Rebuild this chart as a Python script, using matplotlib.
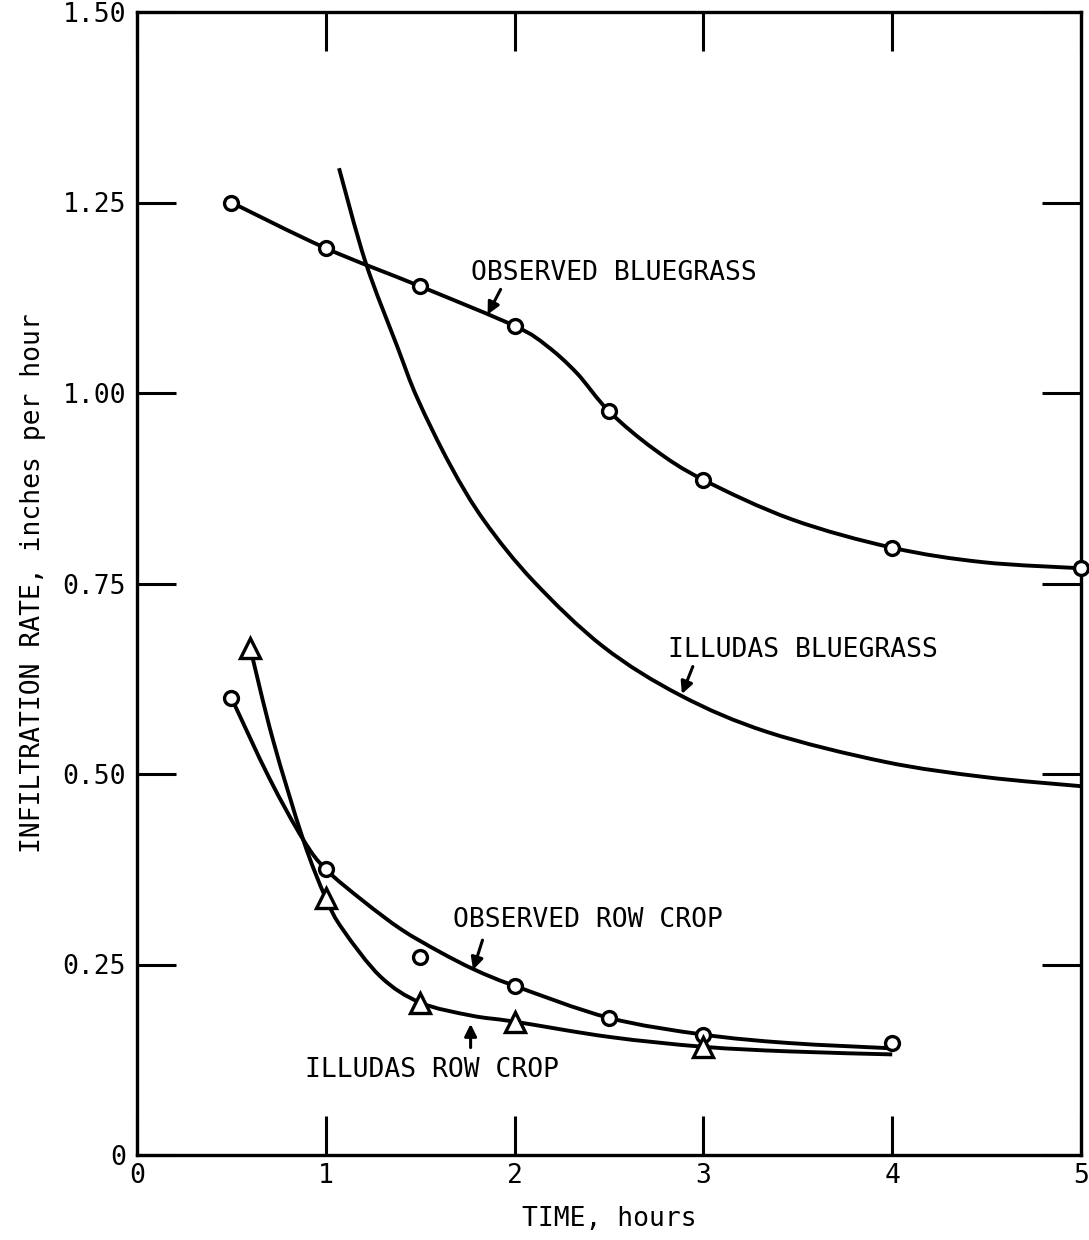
import matplotlib
matplotlib.use("Agg")
import matplotlib.pyplot as plt
import numpy as np
from matplotlib.path import Path
from matplotlib.patches import PathPatch

# Observed bluegrass (circles) and the curve drawn through them
obs_blue_x = [0.5, 1.0, 1.5, 2.0, 2.5, 3.0, 4.0, 5.0]
obs_blue_y = [1.25, 1.19, 1.14, 1.088, 0.976, 0.886, 0.797, 0.77]
obs_blue_curve_x = [0.5, 1.0, 1.5, 2.0, 2.17, 2.33, 2.5, 2.74, 3.0, 3.47, 4.0, 4.48, 5.0]
obs_blue_curve_y = [1.25, 1.19, 1.14, 1.088, 1.062, 1.026, 0.976, 0.926, 0.886, 0.834, 0.797, 0.778, 0.77]

# ILLUDAS bluegrass (curve only)
ill_blue_x = [1.07, 1.21, 1.38, 1.485, 1.66, 1.84, 2.10, 2.47, 2.88, 3.34, 3.96, 4.49, 5.0]
ill_blue_y = [1.295, 1.172, 1.06, 0.993, 0.905, 0.832, 0.753, 0.667, 0.603, 0.555, 0.516, 0.496, 0.484]

# Observed row crop (circles); the 1.5 h point sits off the curve
obs_row_x = [0.5, 1.0, 1.5, 2.0, 2.5, 3.0, 4.0]
obs_row_y = [0.60, 0.375, 0.26, 0.222, 0.18, 0.158, 0.147]
obs_row_curve_x = [0.5, 0.7, 0.88, 1.0, 1.2, 1.4, 1.6, 1.79, 2.0, 2.5, 3.0, 3.45, 4.0]
obs_row_curve_y = [0.60, 0.495, 0.414, 0.375, 0.333, 0.296, 0.267, 0.243, 0.222, 0.18, 0.158, 0.147, 0.14]

# ILLUDAS row crop (triangles)
ill_row_x = [0.6, 1.0, 1.5, 2.0, 3.0]
ill_row_y = [0.665, 0.337, 0.20, 0.175, 0.142]
ill_row_curve_x = [0.6, 0.72, 0.88, 1.0, 1.09, 1.29, 1.5, 1.77, 2.0, 2.5, 3.0, 3.45, 4.0]
ill_row_curve_y = [0.665, 0.545, 0.414, 0.337, 0.296, 0.234, 0.20, 0.183, 0.175, 0.155, 0.142, 0.136, 0.132]

x_ticks = [0, 1, 2, 3, 4, 5]
y_ticks = [0, 0.25, 0.50, 0.75, 1.00, 1.25, 1.50]
y_labels = ["0", "0.25", "0.50", "0.75", "1.00", "1.25", "1.50"]

plt.rcParams['font.family'] = ['DejaVu Sans Mono']
fs = 19


def smooth_path(xs, ys):
    # Catmull-Rom style bezier through the read points (like a french curve)
    p = np.column_stack([xs, ys]).astype(float)
    verts = [p[0]]
    codes = [Path.MOVETO]
    n = len(p)
    for i in range(n - 1):
        p0 = p[i - 1] if i > 0 else p[i]
        p1, p2 = p[i], p[i + 1]
        p3 = p[i + 2] if i + 2 < n else p[i + 1]
        c1 = p1 + (p2 - p0) / 6.0
        c2 = p2 - (p3 - p1) / 6.0
        verts += [c1, c2, p2]
        codes += [Path.CURVE4] * 3
    return Path(verts, codes)


fig = plt.figure(figsize=(10.89, 12.4), dpi=100)
ax = fig.add_axes([137/1089, 1 - 1155/1240, (1081 - 137)/1089, (1155 - 12)/1240])

lw = 2.8
for cx, cy in [(obs_blue_curve_x, obs_blue_curve_y), (ill_blue_x, ill_blue_y),
               (obs_row_curve_x, obs_row_curve_y), (ill_row_curve_x, ill_row_curve_y)]:
    ax.add_patch(PathPatch(smooth_path(cx, cy), fill=False, edgecolor='k', lw=lw,
                           capstyle='butt', zorder=2))

ax.plot(obs_blue_x, obs_blue_y, 'o', ms=10, mfc='white', mec='k', mew=2.4, zorder=3, clip_on=False)
ax.plot(obs_row_x, obs_row_y, 'o', ms=10, mfc='white', mec='k', mew=2.4, zorder=3, clip_on=False)
ax.plot(ill_row_x, ill_row_y, '^', ms=15, mfc='white', mec='k', mew=2.4, zorder=3, clip_on=False)

# Curve labels with small arrows
labels = [
    ("OBSERVED BLUEGRASS", 1.77, 1.157, (1.926, 1.136), (1.857, 1.103)),
    ("ILLUDAS BLUEGRASS", 2.81, 0.663, (2.944, 0.641), (2.886, 0.605)),
    ("OBSERVED ROW CROP", 1.676, 0.308, (1.83, 0.282), (1.78, 0.243)),
    ("ILLUDAS ROW CROP", 0.89, 0.112, (1.767, 0.141), (1.767, 0.172)),
]
for txt, tx, ty, tail, tip in labels:
    ax.text(tx, ty, txt, fontsize=fs, ha='left', va='center')
    ax.annotate('', xy=tip, xytext=tail,
                arrowprops=dict(arrowstyle='-|>', color='k', lw=2.2, mutation_scale=18,
                                shrinkA=0, shrinkB=0))

ax.set_xlim(0, 5)
ax.set_ylim(0, 1.5)
ax.set_xticks(x_ticks)
ax.set_xticklabels([str(v) for v in x_ticks], fontsize=fs)
ax.set_yticks(y_ticks)
ax.set_yticklabels(y_labels, fontsize=fs)
ax.tick_params(direction='in', length=28, width=2.2, top=True, right=True)
ax.tick_params(axis='y', pad=8)
ax.tick_params(axis='x', pad=6)
for s in ax.spines.values():
    s.set_linewidth(2.4)

ax.set_xlabel("TIME, hours", fontsize=fs, labelpad=12)
ax.set_ylabel("INFILTRATION RATE, inches per hour", fontsize=fs, labelpad=12)

fig.savefig("out.png", dpi=100)
